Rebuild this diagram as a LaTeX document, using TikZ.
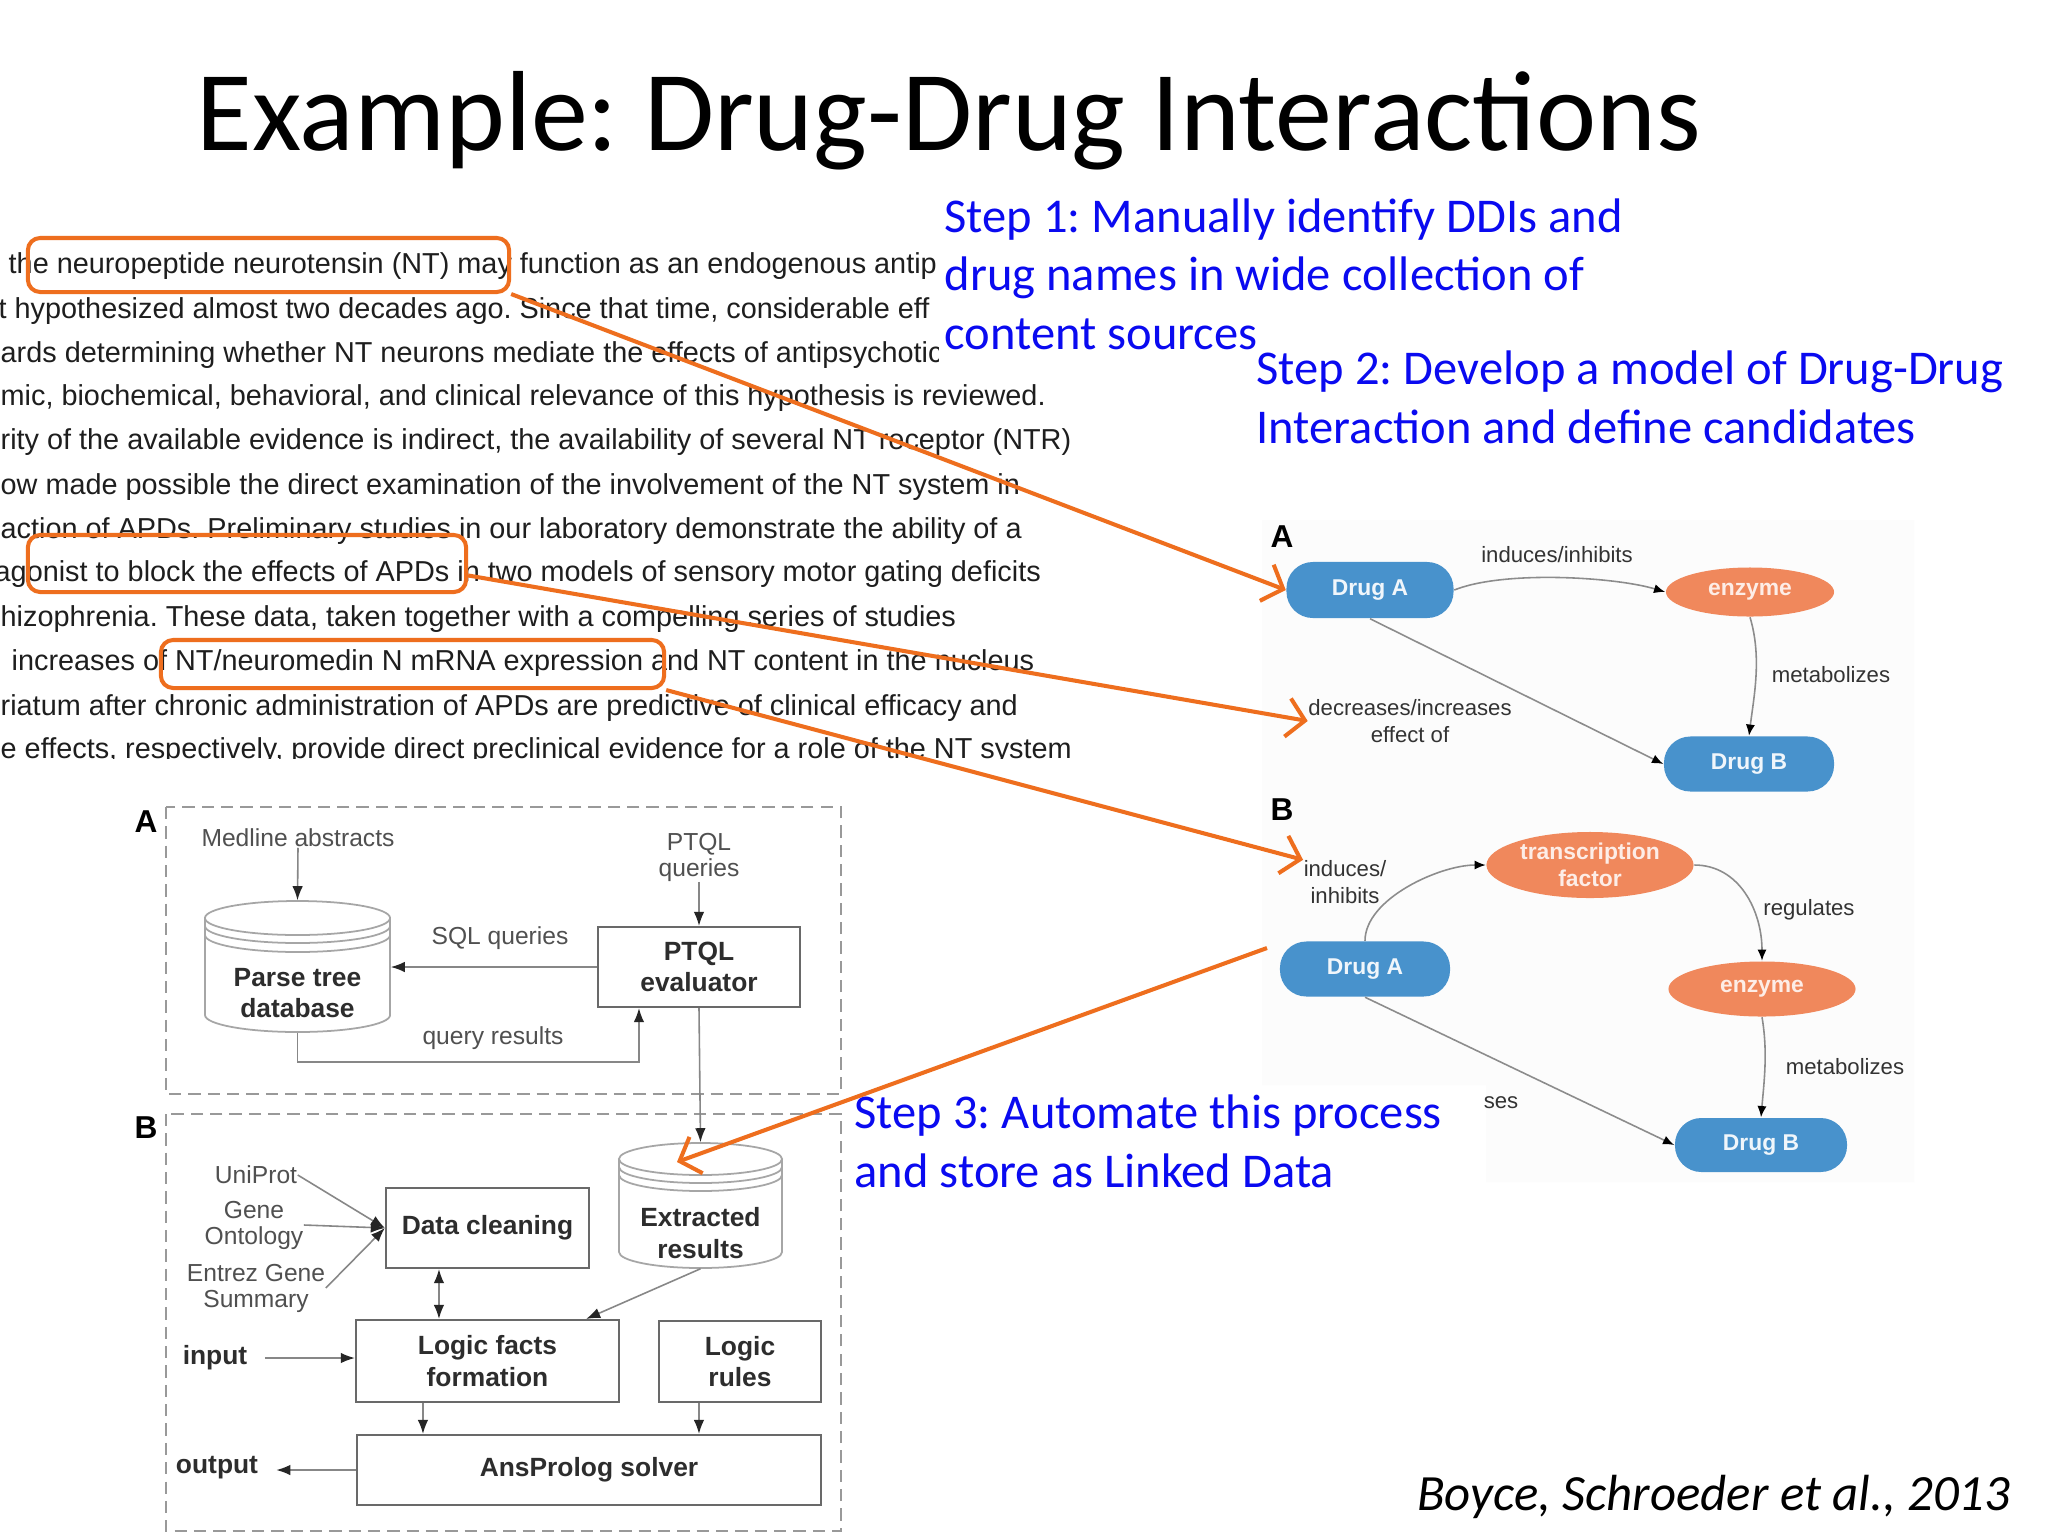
\documentclass[tikz,border=0pt]{standalone}
\usepackage{fontspec}
\setmainfont{Carlito}
\newfontfamily\arialf{Liberation Sans}
\usetikzlibrary{arrows.meta,shapes.geometric}
\definecolor{hlorange}{RGB}{238,110,30}
\definecolor{stepblue}{RGB}{10,10,240}
\definecolor{paratext}{RGB}{30,30,30}
\definecolor{pillblue}{RGB}{72,146,204}
\definecolor{ellorange}{RGB}{240,136,92}
\definecolor{flowgray}{RGB}{105,105,105}
\definecolor{flowtext}{RGB}{80,80,80}
\definecolor{boldtext}{RGB}{45,45,45}
\definecolor{edgegray}{RGB}{140,140,140}
\tikzset{
  paraline/.style={anchor=west, inner sep=0pt, font=\arialf\fontsize{8.2}{9.6}\selectfont, text=paratext, text height=1.4ex, text depth=0.4ex},
  hlbox/.style={draw=hlorange, line width=1.15pt, rounded corners=3.5pt, inner sep=0pt},
  orarrow/.style={draw=hlorange, line width=1.15pt, -{Straight Barb[length=5pt,width=11pt]}},
  steptext/.style={font=\fontsize{13.8}{16.6}\selectfont, text=stepblue, align=left, anchor=base west, inner sep=0pt},
  pill/.style={rectangle, rounded corners=7.5pt, fill=pillblue, text=white!92!pillblue, font=\arialf\bfseries\fontsize{6.5}{7.5}\selectfont, inner sep=0pt},
  ell/.style={ellipse, fill=ellorange, text=white!85!ellorange, font=\arialf\bfseries\fontsize{6.5}{7.6}\selectfont, inner sep=0pt, align=center},
  rlabel/.style={font=\arialf\fontsize{6.3}{7.6}\selectfont, text=black!80, align=center, inner sep=0pt},
  redge/.style={draw=edgegray, line width=0.45pt, -{Latex[length=3.2pt,width=2.6pt,color=black]}},
  panellbl/.style={font=\arialf\bfseries\fontsize{9}{10}\selectfont, inner sep=0pt},
  flabel/.style={font=\arialf\fontsize{7}{7.4}\selectfont, text=flowtext, align=center, inner sep=0pt},
  fbold/.style={font=\arialf\bfseries\fontsize{7.5}{8.9}\selectfont, text=boldtext, align=center, inner sep=0pt},
  flowbox/.style={draw=flowgray, line width=0.6pt, fbold},
  fline/.style={draw=flowgray!80, line width=0.45pt},
  farrow/.style={fline, -{Latex[length=4pt,width=3pt,color=black!85]}},
  panel/.style={draw=gray!80, line width=0.6pt, dash pattern=on 3.5pt off 2pt},
  cyl/.style={draw=gray!70, line width=0.5pt},
}
\frenchspacing
\begin{document}
\frenchspacing
\begin{tikzpicture}[x=0.01cm,y=-0.01cm]
\useasboundingbox (0,0) rectangle (2048,1536);
\fill[white] (0,0) rectangle (2048,1536);
% right figure background (very faint), partly hidden by the step 3 text area
\fill[gray!2] (1262,520) -- (1914,520) -- (1914,1182) -- (1486,1182) -- (1486,1085) -- (1262,1085) -- cycle;

% ---------- paragraph ----------
\begin{scope}
\clip (0,235) rectangle (938,380);
\node[paraline] (p1) at (8,265) {the neuropeptide neurotensin (NT) may function as an endogenous antip};
\node[paraline] (p2) at (-2,310) {t hypothesized almost two decades ago. Since that time, considerable eff};
\node[paraline] (p3) at (0,354) {ards determining whether NT neurons mediate the effects of antipsychotic};
\end{scope}
\begin{scope}
\clip (0,380) rectangle (1100,758);
\node[paraline] (p4) at (0,397) {mic, biochemical, behavioral, and clinical relevance of this hypothesis is reviewed.};
\node[paraline] (p5) at (0,441) {rity of the available evidence is indirect, the availability of several NT receptor (NTR)};
\node[paraline] (p6) at (0,486) {ow made possible the direct examination of the involvement of the NT system in};
\node[paraline] (p7) at (0,530) {action of APDs. Preliminary studies in our laboratory demonstrate the ability of a};
\node[paraline] (p8) at (-6,573) {agonist to block the effects of APDs in two models of sensory motor gating deficits};
\node[paraline] (p9) at (0,618) {hizophrenia. These data, taken together with a compelling series of studies};
\node[paraline] (p10) at (11,662) {increases of NT/neuromedin N mRNA expression and NT content in the nucleus};
\node[paraline] (p11) at (0,707) {riatum after chronic administration of APDs are predictive of clinical efficacy and};
\node[paraline] (p12) at (0,750) {e effects, respectively, provide direct preclinical evidence for a role of the NT system};
\end{scope}

% highlight boxes
\node[hlbox, minimum width=4.81cm, minimum height=0.54cm] (hl1) at (268.5,265) {};
\node[hlbox, minimum width=4.38cm, minimum height=0.57cm] (hl2) at (247,563.5) {};
\node[hlbox, minimum width=5.03cm, minimum height=0.48cm] (hl3) at (412.5,664) {};

% ---------- right figure A ----------
\node[panellbl] (figA) at (1282,537) {A};
\node[pill, minimum width=1.67cm, minimum height=0.56cm] (drugA1) at (1370,590) {Drug A};
\node[ell, minimum width=1.68cm, minimum height=0.49cm] (enz1) at (1750,592) {enzyme};
\node[pill, minimum width=1.70cm, minimum height=0.55cm] (drugB1) at (1749,764) {Drug B};
\node[rlabel] (lA1) at (1557,555) {induces/inhibits};
\node[rlabel] (lA2) at (1831,675) {metabolizes};
\node[rlabel] (lA3) at (1410,721) {decreases/increases\\effect of};
\draw[redge] (drugA1.east) .. controls +(50,-20) and +(-50,-15) .. (enz1.west);
\draw[redge] (enz1.south) .. controls +(12,40) and +(5,-40) .. (drugB1.north);
\draw[redge] (drugA1.south) -- (drugB1.west);

% ---------- right figure B ----------
\node[panellbl] (figB) at (1282,810) {B};
\node[ell, minimum width=2.07cm, minimum height=0.66cm] (tf) at (1590,865) {transcription\\factor};
\node[pill, minimum width=1.70cm, minimum height=0.55cm] (drugA2) at (1365,969) {Drug A};
\node[ell, minimum width=1.87cm, minimum height=0.55cm] (enz2) at (1762,989) {enzyme};
\node[pill, minimum width=1.72cm, minimum height=0.54cm] (drugB2) at (1761,1145) {Drug B};
\node[rlabel] (lB1) at (1345,882) {induces/\\inhibits};
\node[rlabel] (lB2) at (1809,910) {regulates};
\node[rlabel] (lB3) at (1845,1067) {metabolizes};
\node[rlabel, anchor=east] (lB4) at (1519,1103) {ses};
\draw[redge] (drugA2.north) .. controls +(0,-42) and +(-46,0) .. (tf.west);
\draw[redge] (tf.east) .. controls +(45,0) and +(0,-50) .. (enz2.north);
\draw[redge] (enz2.south) .. controls +(6,35) and +(3,-35) .. (drugB2.north);
\draw[redge] (drugA2.south) -- (drugB2.west);

% ---------- flowchart panel A ----------
\draw[panel] (166,807) rectangle (841,1094);
\node[panellbl] (pA) at (146,822) {A};
\node[flabel] (medline) at (298,838) {Medline abstracts};
\node[flabel] (ptqlq) at (699,857) {PTQL\\queries};
% parse tree database cylinder
\fill[white] (205,918) -- (205,1015) arc[start angle=180,end angle=360,x radius=0.925cm,y radius=0.17cm] -- (390,918) arc[start angle=0,end angle=180,x radius=0.925cm,y radius=0.17cm] -- cycle;
\draw[cyl] (205,918) -- (205,1015) arc[start angle=180,end angle=360,x radius=0.925cm,y radius=0.17cm] -- (390,918);
\draw[cyl] (297.5,918) ellipse[x radius=0.925cm,y radius=0.17cm];
\draw[cyl] (205,926) arc[start angle=180,end angle=360,x radius=0.925cm,y radius=0.17cm];
\draw[cyl] (205,935) arc[start angle=180,end angle=360,x radius=0.925cm,y radius=0.17cm];
\node[minimum width=1.85cm, minimum height=1.31cm, inner sep=0pt] (parse) at (297.5,966.5) {};
\node[fbold] (parsetxt) at (297.5,993) {Parse tree\\database};
\node[flowbox, minimum width=2.02cm, minimum height=0.80cm] (ptqlev) at (699,967) {PTQL\\evaluator};
\node[flabel] (sqllbl) at (500,938) {SQL queries};
\node[flabel] (qrlbl) at (493,1038) {query results};
\draw[farrow] (medline.south) -- (parse.north);
\draw[farrow] (ptqlq.south) -- (ptqlev.north);
\draw[farrow] (ptqlev.west) -- (ptqlev.west -| parse.east);
\draw[farrow] (parse.south) -- (parse.south |- 0,1062) -| ([xshift=-0.6cm]ptqlev.south);

% ---------- flowchart panel B ----------
\draw[panel] (166,1114) rectangle (841,1531);
\node[panellbl] (pB) at (146,1128) {B};
% extracted results cylinder
\fill[white] (619,1159) -- (619,1252) arc[start angle=180,end angle=360,x radius=0.815cm,y radius=0.16cm] -- (782,1159) arc[start angle=0,end angle=180,x radius=0.815cm,y radius=0.16cm] -- cycle;
\draw[cyl] (619,1159) -- (619,1252) arc[start angle=180,end angle=360,x radius=0.815cm,y radius=0.16cm] -- (782,1159);
\draw[cyl] (700.5,1159) ellipse[x radius=0.815cm,y radius=0.16cm];
\draw[cyl] (619,1167) arc[start angle=180,end angle=360,x radius=0.815cm,y radius=0.16cm];
\draw[cyl] (619,1175) arc[start angle=180,end angle=360,x radius=0.815cm,y radius=0.16cm];
\node[minimum width=1.63cm, minimum height=1.25cm, inner sep=0pt] (extr) at (700.5,1205.5) {};
\node[fbold] (extrtxt) at (700.5,1233) {Extracted\\results};
\draw[farrow] (ptqlev.south) -- (extr.north);

\node[flabel] (uni) at (256,1175) {UniProt};
\node[flabel] (gene) at (254,1225) {Gene\\Ontology};
\node[flabel] (entrez) at (256,1288) {Entrez Gene\\Summary};
\node[flowbox, minimum width=2.03cm, minimum height=0.80cm] (dcl) at (487.5,1228) {Data cleaning};
\node[flowbox, minimum width=2.63cm, minimum height=0.82cm] (lf) at (487.5,1361) {Logic facts\\formation};
\node[flowbox, minimum width=1.62cm, minimum height=0.81cm] (rules) at (740,1361.5) {Logic\\rules};
\node[flowbox, minimum width=4.64cm, minimum height=0.70cm] (ans) at (589,1470) {AnsProlog solver};
\node[fbold] (inp) at (215,1358) {input};
\node[fbold] (outp) at (217,1468) {output};
\draw[farrow] (uni.east) -- (dcl.west);
\draw[farrow] (gene.east) -- (dcl.west);
\draw[farrow] (entrez.east) -- (dcl.west);
\draw[farrow, {Latex[length=4pt,width=3pt,color=black!85]}-{Latex[length=4pt,width=3pt,color=black!85]}] ([xshift=-0.485cm]dcl.south) -- ([xshift=-0.485cm]dcl.south |- lf.north);
\draw[farrow] (extr.south) -- ([xshift=-0.34cm]lf.north east);
\draw[farrow] ([xshift=4.8pt]inp.east) -- (inp.east -| lf.west);
\draw[farrow] ([xshift=-0.645cm]lf.south) -- ([xshift=-0.645cm]lf.south |- ans.north);
\draw[farrow] ([xshift=-0.41cm]rules.south) -- ([xshift=-0.41cm]rules.south |- ans.north);
\draw[farrow] (ans.west) -- ([xshift=5pt]ans.west -| outp.east);

% ---------- step texts (anchor = baseline of last line) ----------
\node[steptext] (step1) at (944,349) {Step 1: Manually identify DDIs and\\drug names in wide collection of\\content sources};
\node[steptext] (step2) at (1256,443) {Step 2: Develop a model of Drug-Drug\\Interaction and define candidates};
\node[steptext] (step3) at (854,1187) {Step 3: Automate this process\\and store as Linked Data};

% title and citation
\node[font=\fontsize{32.4}{38}\selectfont, anchor=base west, inner sep=0pt] (title) at (196,150) {Example: Drug-Drug Interactions};
\node[font=\itshape\fontsize{14.45}{17}\selectfont, anchor=base east, inner sep=0pt] (cite) at (2011,1510) {Boyce, Schroeder et al., 2013};

% ---------- orange arrows ----------
\coordinate (s3from) at (1267,948);
\coordinate (s3to) at (677,1162);
\draw[orarrow] (hl1.south east) -- (drugA1.west);
\draw[orarrow] ([yshift=-3.4pt]hl2.east) -- (lA3.west);
\draw[orarrow] (hl3.south east) -- (lB1.north west);
\draw[orarrow] (s3from) -- (s3to);
\end{tikzpicture}
\end{document}
